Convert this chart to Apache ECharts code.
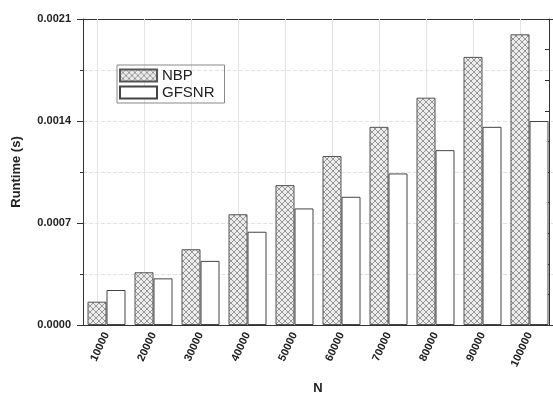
<!DOCTYPE html>
<html><head><meta charset="utf-8">
<script src="https://cdn.jsdelivr.net/npm/echarts@6/dist/echarts.min.js"></script>
<style>html,body{margin:0;padding:0;background:#fff}#c{width:553px;height:395px}</style>
</head><body><div id="c"></div>
<script>
const categories = ['10000','20000','30000','40000','50000','60000','70000','80000','90000','100000'];
const nbp = [0.00016,0.000362,0.00052,0.00076,0.00096,0.00116,0.00136,0.00156,0.00184,0.001995];
const gfsnr = [0.00024,0.00032,0.00044,0.00064,0.0008,0.00088,0.00104,0.0012,0.00136,0.0014];
const yTickLabels = ['0.0000','0.0007','0.0014','0.0021'];

const cv = document.createElement('canvas');
cv.width = 6; cv.height = 6;
const g = cv.getContext('2d');
g.fillStyle = '#ececec'; g.fillRect(0,0,6,6);
g.strokeStyle = '#8c8c8c'; g.lineWidth = 0.9;
g.beginPath(); g.moveTo(-1,-1); g.lineTo(7,7); g.moveTo(-1,7); g.lineTo(7,-1); g.stroke();

const font = 'Liberation Sans, Arial, sans-serif';
const chart = echarts.init(document.getElementById('c'));
chart.setOption({
  animation: false,
  textStyle: {fontFamily: font},
  grid: {left: 83, top: 19, bottom: 70, width: 470, outerBoundsMode: 'none', containLabel: false},
  legend: {
    data: ['NBP','GFSNR'], orient: 'vertical', left: 117, top: 65, icon: 'rect',
    itemWidth: 37, itemHeight: 12, itemGap: 2, padding: [3,10,3,2],
    borderColor: '#888', borderWidth: 1,
    textStyle: {fontSize: 15, color: '#222', fontFamily: font}
  },
  xAxis: [{
    type: 'category', data: categories, position: 'bottom',
    name: 'N', nameLocation: 'middle', nameGap: 57,
    nameTextStyle: {fontWeight: 'bold', fontSize: 13, color: '#222'},
    axisLine: {lineStyle: {color: '#333', width: 1}},
    axisTick: {alignWithLabel: true, length: 5, lineStyle: {color: '#333'}},
    axisLabel: {rotate: 65, fontWeight: 'bold', fontSize: 11, color: '#222', margin: 8, interval: 0},
    splitLine: {show: false}
  },{
    type: 'category', data: categories, position: 'bottom',
    axisLine: {show: false}, axisTick: {length: 2, lineStyle: {color: '#333'}},
    axisLabel: {show: false}
  },{
    type: 'category', data: categories, position: 'top',
    axisLine: {show: true, lineStyle: {color: '#333'}},
    axisTick: {inside: true, length: 4, lineStyle: {color: '#333'}},
    axisLabel: {show: false}
  }],
  yAxis: [{
    type: 'value', min: 0, max: 0.0021, interval: 0.0007,
    name: 'Runtime (s)', nameLocation: 'middle', nameGap: 60,
    nameTextStyle: {fontWeight: 'bold', fontSize: 13, color: '#222'},
    axisLine: {show: true, lineStyle: {color: '#333'}},
    axisTick: {show: true, length: 6, lineStyle: {color: '#333'}},
    minorTick: {show: true, splitNumber: 2, length: 3, lineStyle: {color: '#333'}},
    axisLabel: {fontWeight: 'bold', fontSize: 11, color: '#222', margin: 12,
      formatter: v => yTickLabels[Math.round(v / 0.0007)]},
    splitLine: {show: true, lineStyle: {color: '#e2e2e2', type: 'dashed'}},
    minorSplitLine: {show: true, lineStyle: {color: '#e2e2e2', type: 'dashed'}}
  },{
    type: 'value', position: 'right', offset: -4, min: 0, max: 0.0021, interval: 0.00021,
    axisLine: {show: true, lineStyle: {color: '#333'}},
    axisTick: {show: true, inside: true, length: 4, lineStyle: {color: '#333'}},
    axisLabel: {show: false}, splitLine: {show: false}
  }],
  series: [{
    name: 'NBP', type: 'bar', data: nbp, barWidth: 19, barGap: '0%',
    itemStyle: {color: {image: cv, repeat: 'repeat'}, borderColor: '#555', borderWidth: 1},
    markLine: {
      silent: true, symbol: 'none', label: {show: false}, z: 1,
      lineStyle: {color: '#e4e4e4', type: 'solid', width: 1},
      data: categories.map(c => ({xAxis: c}))
    }
  },{
    name: 'GFSNR', type: 'bar', data: gfsnr, barWidth: 19,
    itemStyle: {color: '#fff', borderColor: '#444', borderWidth: 1}
  }]
});
</script></body></html>
